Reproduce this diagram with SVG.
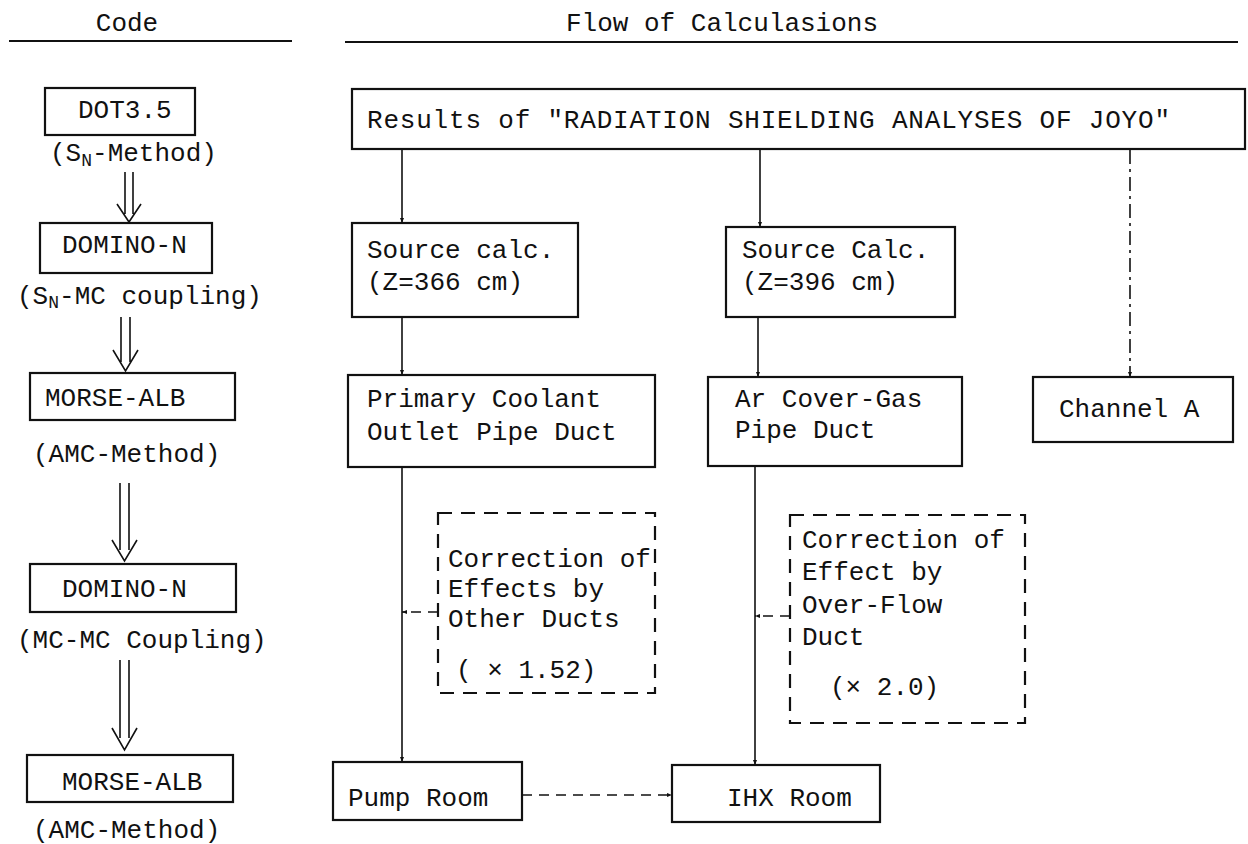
<svg xmlns="http://www.w3.org/2000/svg" width="1248" height="844" viewBox="0 0 1248 844">
<style>
text{font-family:"Liberation Mono","DejaVu Sans Mono",monospace;font-size:26px;fill:#111}
.box{fill:none;stroke:#111;stroke-width:2.2}
.dbox{fill:none;stroke:#111;stroke-width:2.2;stroke-dasharray:14 9}
.ln{fill:none;stroke:#111;stroke-width:1.6}
.dl{fill:none;stroke:#111;stroke-width:1.6;stroke-dasharray:10 7}
.dd{fill:none;stroke:#111;stroke-width:1.6;stroke-dasharray:14 5 3 5}
.hl{stroke:#111;stroke-width:2}
.sub{font-size:18px}
</style>
<defs>
<marker id="ah" viewBox="0 0 10 10" refX="10" refY="5" markerWidth="5" markerHeight="8" orient="auto" markerUnits="userSpaceOnUse">
<path d="M0,1 L10,5 L0,9 Z" fill="#111"/>
</marker>
</defs>
<g id="headers">
<text x="127" y="31" text-anchor="middle">Code</text>
<line class="hl" x1="9" y1="41" x2="292" y2="41"/>
<text x="722" y="31" text-anchor="middle">Flow of Calculasions</text>
<line class="hl" x1="345" y1="42" x2="1238" y2="42"/>
</g>
<g id="dot35"><rect class="box" x="45" y="88" width="150" height="47"/><text x="78" y="118">DOT3.5</text></g>
<g id="lbl-sn"><text x="50" y="161">(S<tspan class="sub" dy="5">N</tspan><tspan dy="-5">-Method)</tspan></text></g>
<g id="domino1"><rect class="box" x="40" y="223" width="172" height="50"/><text x="62" y="253">DOMINO-N</text></g>
<g id="lbl-snmc"><text x="17" y="304">(S<tspan class="sub" dy="4">N</tspan><tspan dy="-4">-MC coupling)</tspan></text></g>
<g id="morse1"><rect class="box" x="30" y="373" width="205" height="47"/><text x="45" y="406">MORSE-ALB</text></g>
<g id="lbl-amc1"><text x="33" y="462">(AMC-Method)</text></g>
<g id="domino2"><rect class="box" x="30" y="564" width="206" height="48"/><text x="62" y="597">DOMINO-N</text></g>
<g id="lbl-mcmc"><text x="17" y="648">(MC-MC Coupling)</text></g>
<g id="morse2"><rect class="box" x="27" y="755" width="206" height="47"/><text x="62" y="790">MORSE-ALB</text></g>
<g id="lbl-amc2"><text x="33" y="838">(AMC-Method)</text></g>

<g id="results"><rect class="box" x="352" y="89" width="893" height="60"/><text x="367" y="128" textLength="803" lengthAdjust="spacing">Results of "RADIATION SHIELDING ANALYSES OF JOYO"</text></g>
<g id="src1"><rect class="box" x="352" y="223" width="226" height="94"/><text x="367" y="258">Source calc.</text><text x="367" y="290">(Z=366 cm)</text></g>
<g id="src2"><rect class="box" x="726" y="227" width="229" height="90"/><text x="742" y="258">Source Calc.</text><text x="742" y="290">(Z=396 cm)</text></g>
<g id="primary"><rect class="box" x="348" y="375" width="307" height="92"/><text x="367" y="407">Primary Coolant</text><text x="367" y="440">Outlet Pipe Duct</text></g>
<g id="arcover"><rect class="box" x="708" y="377" width="254" height="89"/><text x="735" y="407">Ar Cover-Gas</text><text x="735" y="438">Pipe Duct</text></g>
<g id="channelA"><rect class="box" x="1033" y="377" width="200" height="65"/><text x="1059" y="417">Channel A</text></g>
<g id="corr1"><rect class="dbox" x="438" y="513" width="217" height="180"/><text x="448" y="567">Correction of</text><text x="448" y="597">Effects by</text><text x="448" y="627">Other Ducts</text><text x="456" y="678">( × 1.52)</text></g>
<g id="corr2"><rect class="dbox" x="790" y="515" width="235" height="208"/><text x="802" y="548">Correction of</text><text x="802" y="580">Effect by</text><text x="802" y="613">Over-Flow</text><text x="802" y="645">Duct</text><text x="830" y="695">(× 2.0)</text></g>
<g id="pump"><rect class="box" x="333" y="762" width="189" height="58"/><text x="348" y="806">Pump Room</text></g>
<g id="ihx"><rect class="box" x="672" y="765" width="208" height="57"/><text x="727" y="806">IHX Room</text></g>

<g id="connectors">
<path class="ln" d="M125,172 V214 M133,172 V214 M117,204 L129,222 L141,204"/>
<path class="ln" d="M121,317 V362 M130,317 V362 M113,350 L125.5,371 L138,350"/>
<path class="ln" d="M120,483 V550 M129,483 V550 M112,540 L124.5,561 L137,540"/>
<path class="ln" d="M120,660 V738 M129,660 V738 M112,728 L124.5,750 L137,728"/>
<line class="ln" x1="402" y1="150" x2="402" y2="223" marker-end="url(#ah)"/>
<line class="ln" x1="760" y1="150" x2="760" y2="227" marker-end="url(#ah)"/>
<line class="dd" x1="1130" y1="150" x2="1130" y2="377" marker-end="url(#ah)"/>
<line class="ln" x1="402" y1="318" x2="402" y2="375" marker-end="url(#ah)"/>
<line class="ln" x1="758" y1="318" x2="758" y2="377" marker-end="url(#ah)"/>
<line class="ln" x1="402" y1="467" x2="402" y2="762" marker-end="url(#ah)"/>
<line class="ln" x1="755" y1="466" x2="755" y2="765" marker-end="url(#ah)"/>
<line class="dl" x1="438" y1="612" x2="402" y2="612" marker-end="url(#ah)"/>
<line class="dl" x1="790" y1="616" x2="755" y2="616" marker-end="url(#ah)"/>
<line class="dl" x1="522" y1="795" x2="672" y2="795" marker-end="url(#ah)"/>
</g>
</svg>
